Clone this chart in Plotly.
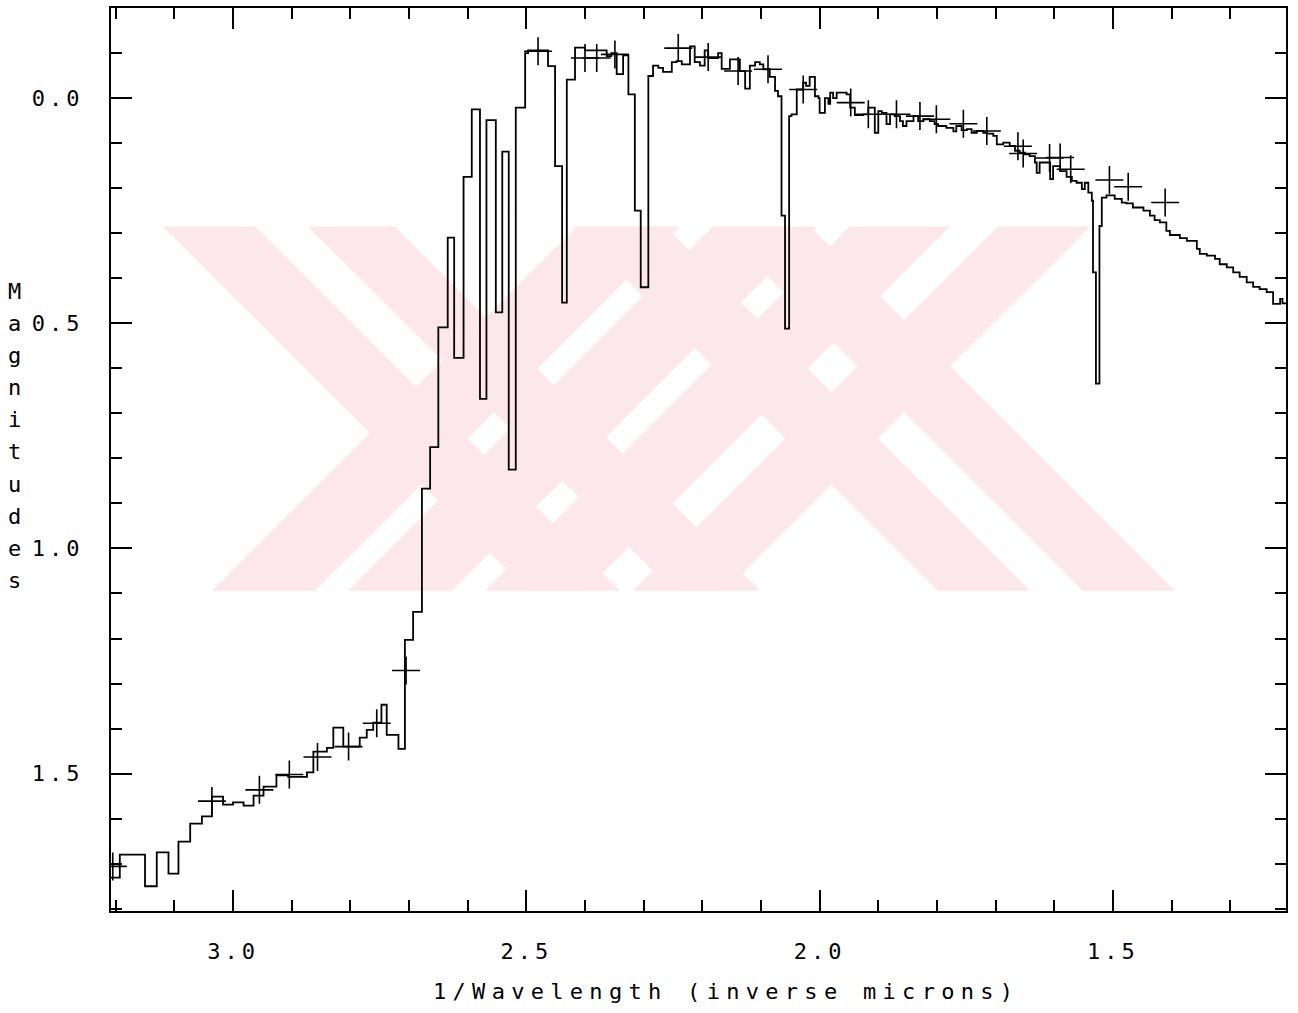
import plotly.graph_objects as go

# Spectrum: bin start (1/wavelength, inverse microns) and magnitude
wavenumber = [
    3.208, 3.193, 3.150, 3.130, 3.110, 3.093, 3.073, 3.053, 3.036, 3.017,
    3.000, 2.982, 2.965, 2.948, 2.926, 2.906, 2.874, 2.863, 2.840, 2.829,
    2.812, 2.784, 2.772, 2.761, 2.747, 2.738, 2.718, 2.707, 2.693, 2.678,
    2.664, 2.650, 2.634, 2.623, 2.607, 2.593, 2.579, 2.568, 2.552, 2.541,
    2.530, 2.518, 2.502, 2.497, 2.463, 2.451, 2.439, 2.431, 2.417, 2.400,
    2.363, 2.355, 2.346, 2.335, 2.326, 2.315, 2.305, 2.292, 2.284, 2.275,
    2.267, 2.252, 2.244, 2.235, 2.221, 2.213, 2.204, 2.196, 2.190, 2.173,
    2.167, 2.153, 2.136, 2.127, 2.119, 2.110, 2.102, 2.096, 2.085, 2.076,
    2.071, 2.065, 2.059, 2.052, 2.048, 2.039, 2.028, 2.023, 2.017, 2.008,
    2.002, 2.000, 1.991, 1.985, 1.982, 1.977, 1.971, 1.954, 1.948, 1.940,
    1.926, 1.917, 1.906, 1.900, 1.894, 1.886, 1.880, 1.872, 1.863, 1.858,
    1.852, 1.840, 1.832, 1.823, 1.812, 1.804, 1.798, 1.784, 1.772, 1.767,
    1.758, 1.749, 1.741, 1.732, 1.721, 1.715, 1.704, 1.698, 1.687, 1.676,
    1.667, 1.659, 1.650, 1.642, 1.633, 1.630, 1.625, 1.607, 1.602, 1.590,
    1.579, 1.570, 1.562, 1.553, 1.548, 1.542, 1.536, 1.534, 1.529, 1.523,
    1.519, 1.511, 1.497, 1.485, 1.477, 1.466, 1.448, 1.437, 1.429, 1.420,
    1.409, 1.403, 1.386, 1.374, 1.357, 1.352, 1.340, 1.326, 1.318, 1.306,
    1.295, 1.284, 1.272, 1.261, 1.250, 1.238, 1.227, 1.215, 1.211, 1.205,
]
magnitude = [
    1.731, 1.680, 1.750, 1.675, 1.722, 1.651, 1.611, 1.595, 1.551, 1.569,
    1.564, 1.571, 1.549, 1.529, 1.504, 1.507, 1.497, 1.451, 1.443, 1.398,
    1.440, 1.420, 1.403, 1.387, 1.347, 1.414, 1.445, 1.203, 1.141, 0.867,
    0.775, 0.509, 0.310, 0.577, 0.175, 0.025, 0.668, 0.049, 0.476, 0.119,
    0.825, 0.021, -0.100, -0.106, -0.071, 0.151, 0.454, -0.041, -0.112, -0.106,
    -0.093, -0.100, -0.053, -0.095, -0.008, 0.250, 0.420, -0.049, -0.072, -0.067,
    -0.058, -0.080, -0.082, -0.075, -0.115, -0.080, -0.072, -0.106, -0.089, -0.100,
    -0.065, -0.086, -0.060, -0.021, -0.072, -0.080, -0.075, -0.064, -0.047, -0.016,
    -0.004, 0.261, 0.512, 0.040, 0.036, -0.019, -0.034, -0.027, -0.047, -0.004,
    0.000, 0.033, 0.000, 0.013, -0.012, 0.000, -0.012, -0.008, 0.021, 0.038,
    0.036, 0.021, 0.077, 0.029, 0.033, 0.058, 0.036, 0.040, 0.051, 0.062,
    0.051, 0.040, 0.051, 0.047, 0.051, 0.058, 0.062, 0.066, 0.074, 0.062,
    0.071, 0.069, 0.077, 0.073, 0.077, 0.079, 0.084, 0.103, 0.099, 0.106,
    0.117, 0.121, 0.125, 0.129, 0.143, 0.166, 0.143, 0.180, 0.151, 0.162,
    0.175, 0.184, 0.188, 0.202, 0.188, 0.210, 0.228, 0.387, 0.634, 0.284,
    0.221, 0.216, 0.224, 0.232, 0.234, 0.243, 0.250, 0.261, 0.271, 0.276,
    0.295, 0.304, 0.311, 0.317, 0.335, 0.346, 0.350, 0.357, 0.369, 0.376,
    0.387, 0.397, 0.409, 0.419, 0.424, 0.431, 0.457, 0.446, 0.456, 0.456,
]

# Photometric points (+)
phot_wavenumber = [
    3.205, 3.036, 2.955, 2.904, 2.856, 2.803, 2.755, 2.705, 2.480, 2.400,
    2.380, 2.349, 2.241, 2.190, 2.139, 2.088, 2.028, 1.947, 1.917, 1.869,
    1.829, 1.801, 1.755, 1.715, 1.662, 1.653, 1.608, 1.590, 1.572, 1.506,
    1.474, 1.411,
]
phot_magnitude = [
    1.706, 1.561, 1.536, 1.502, 1.463, 1.440, 1.388, 1.271, -0.104, -0.089,
    -0.089, -0.097, -0.111, -0.091, -0.060, -0.064, -0.019, 0.010, 0.036, 0.036,
    0.040, 0.047, 0.057, 0.073, 0.107, 0.123, 0.133, 0.132, 0.158, 0.182,
    0.197, 0.232,
]

x_tick_vals = [3.0, 2.5, 2.0, 1.5]
x_tick_text = ["3.0", "2.5", "2.0", "1.5"]
y_tick_vals = [0.0, 0.5, 1.0, 1.5]
y_tick_text = ["0.0", "0.5", "1.0", "1.5"]
x_title = "1/Wavelength (inverse microns)"
y_title = "Magnitudes"

FONT = "DejaVu Sans Mono"
FSIZE = 22

W, H = 1298, 1013
ML, MR, MT, MB = 111, 12, 6, 102
PW, PH = W - ML - MR, H - MT - MB


def spaced(s, px):
    return f'<span style="letter-spacing:{px}px">{s}</span>'


# ---- faint pink background watermark (decoration, in page pixels) ----
WM_TOP, WM_BOT = 225, 590
WM_COLOR = "rgb(252,231,236)"
# (left edge at top, width, direction: +1 = "\" , -1 = "/")
wm_bands = [
    (163, 92, +1), (308, 87, +1),
    (577, 103, -1), (713, 104, -1),
    (850, 100, -1), (998, 92, -1),
    (718, 92, +1), (573, 92, +1),
]


def to_paper(px, py):
    return (px - ML) / PW, (MT + PH - py) / PH


wm_shapes = []
span = WM_BOT - WM_TOP
for left, width, d in wm_bands:
    pts = [(left, WM_TOP), (left + width, WM_TOP),
           (left + width + d * span, WM_BOT), (left + d * span, WM_BOT)]
    pp = [to_paper(*p) for p in pts]
    path = "M " + " L ".join(f"{a:.5f},{b:.5f}" for a, b in pp) + " Z"
    wm_shapes.append(dict(type="path", path=path, xref="paper", yref="paper",
                          fillcolor=WM_COLOR, line=dict(width=0), layer="below"))

fig = go.Figure()
fig.add_trace(go.Scatter(
    x=wavenumber, y=magnitude, mode="lines", line_shape="hv",
    line=dict(color="black", width=1.8), showlegend=False,
))
fig.add_trace(go.Scatter(
    x=phot_wavenumber, y=phot_magnitude, mode="markers",
    marker=dict(symbol="cross-thin", size=20, line=dict(color="black", width=1.6)),
    showlegend=False,
))

axis_common = dict(
    showline=True, linecolor="black", linewidth=2, mirror="ticks",
    ticks="inside", ticklen=21, tickwidth=1.6, tickcolor="black",
    showgrid=False, zeroline=False,
    tickfont=dict(family=FONT, size=FSIZE, color="black"),
    minor=dict(ticks="inside", ticklen=11, tickwidth=1.6, tickcolor="black",
               dtick=0.1, tick0=0, showgrid=False),
)

fig.update_xaxes(
    range=[3.208, 1.205], tickmode="array", tickvals=x_tick_vals,
    ticktext=[spaced(t, 4) for t in x_tick_text], ticklabelstandoff=20,
    **axis_common,
)
fig.update_yaxes(
    range=[1.805, -0.2], tickmode="array", tickvals=y_tick_vals,
    ticktext=[spaced(t, 4) for t in y_tick_text], ticklabelstandoff=21,
    **axis_common,
)

fig.add_annotation(
    text=spaced(x_title, 6.3), xref="paper", yref="paper", x=0.523, y=-0.0895,
    showarrow=False, xanchor="center", yanchor="middle",
    font=dict(family=FONT, size=FSIZE, color="black"),
)

step = 0.5 / 7
for i, ch in enumerate(y_title):
    fig.add_annotation(
        text=ch, xref="paper", yref="y", x=-0.082, y=0.5 - step + i * step,
        showarrow=False, xanchor="center", yanchor="middle",
        font=dict(family=FONT, size=FSIZE, color="black"),
    )

fig.update_layout(
    width=W, height=H,
    margin=dict(l=ML, r=MR, t=MT, b=MB),
    paper_bgcolor="white", plot_bgcolor="white",
    shapes=wm_shapes,
)

fig.write_html("out.html")
